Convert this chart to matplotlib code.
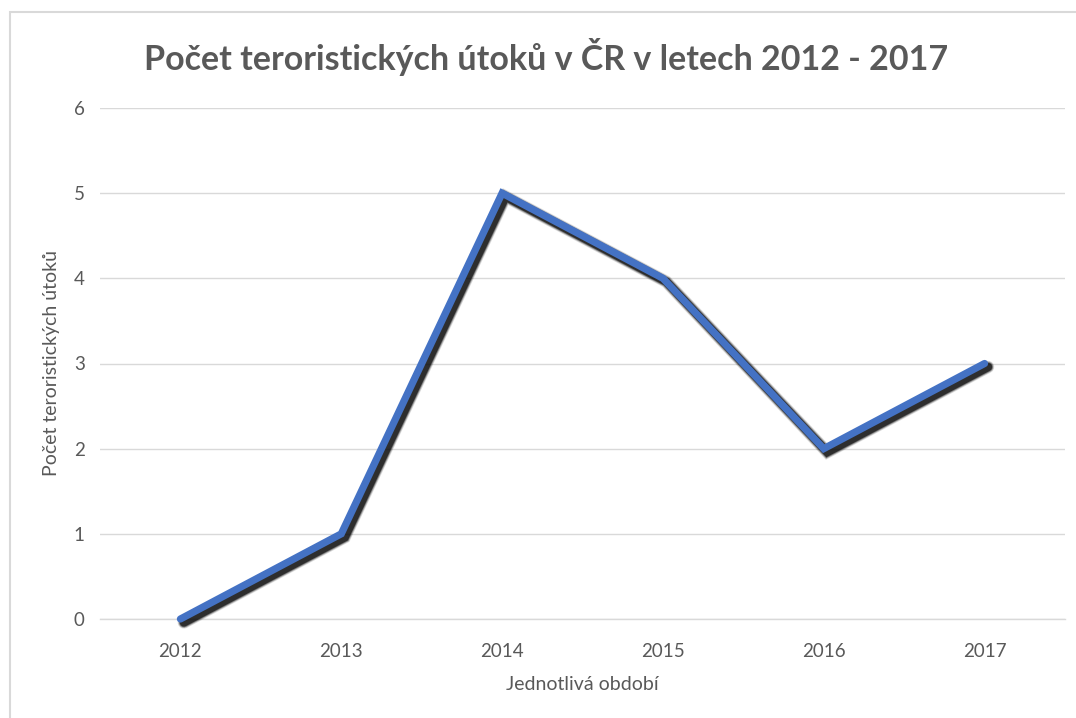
import matplotlib
matplotlib.use('Agg')
from matplotlib import pyplot as plt
from matplotlib import patheffects as pe
import matplotlib.patches as patches

years = ['2012', '2013', '2014', '2015', '2016', '2017']
attacks = [0, 1, 5, 4, 2, 3]

title = 'Počet teroristických útoků v ČR v letech 2012 - 2017'
x_label = 'Jednotlivá období'
y_label = 'Počet teroristických útoků'

plt.rcParams['font.family'] = ['Lato', 'DejaVu Sans']
grey = '#595959'

W, H = 1076, 718
fig = plt.figure(figsize=(W / 100, H / 100), dpi=100)

# outer chart frame (cropped on right/bottom like the screenshot)
fig.patches.append(patches.Rectangle((10 / W, -0.1), 1.2, 1 - 12 / H + 0.1,
                                     transform=fig.transFigure, fill=False,
                                     edgecolor='#d9d9d9', linewidth=1.5))

ax = fig.add_axes([100 / W, 1 - 619 / H, (1065 - 100) / W, (619 - 108) / H])

# soft shadow: several stacked translucent strokes
shadow = []
for lw, a in [(9, 0.12), (8, 0.2), (7, 0.35), (6, 0.6)]:
    shadow.append(pe.SimpleLineShadow(offset=(2.5, -2.5), shadow_color='black',
                                      alpha=a, linewidth=lw))

x = list(range(len(years)))
ax.plot(x, attacks, color='#4472C4', linewidth=5.2, solid_joinstyle='miter',
        solid_capstyle='round', path_effects=shadow + [pe.Normal()],
        zorder=3, clip_on=False)

ax.set_xlim(-0.5, len(years) - 0.5)
ax.set_ylim(0, 6)
ax.set_yticks(range(7))
ax.set_xticks(x)
ax.set_xticklabels(years)

ax.grid(axis='y', color='#d9d9d9', linewidth=1)
ax.set_axisbelow(True)
for s in ['top', 'right', 'left']:
    ax.spines[s].set_visible(False)
ax.spines['bottom'].set_color('#d9d9d9')
ax.spines['bottom'].set_linewidth(1)
ax.tick_params(length=0, colors=grey, labelsize=13.5, pad=17)
ax.tick_params(axis='y', pad=11)

ax.set_xlabel(x_label, color=grey, fontsize=14, labelpad=12)
ax.set_ylabel(y_label, color=grey, fontsize=14, labelpad=10)

fig.text(0.5 * (145 + 948) / W, 1 - 57 / H, title, ha='center', va='center',
         fontsize=24.5, fontweight='bold', color=grey)

fig.savefig('out.png', dpi=100)
